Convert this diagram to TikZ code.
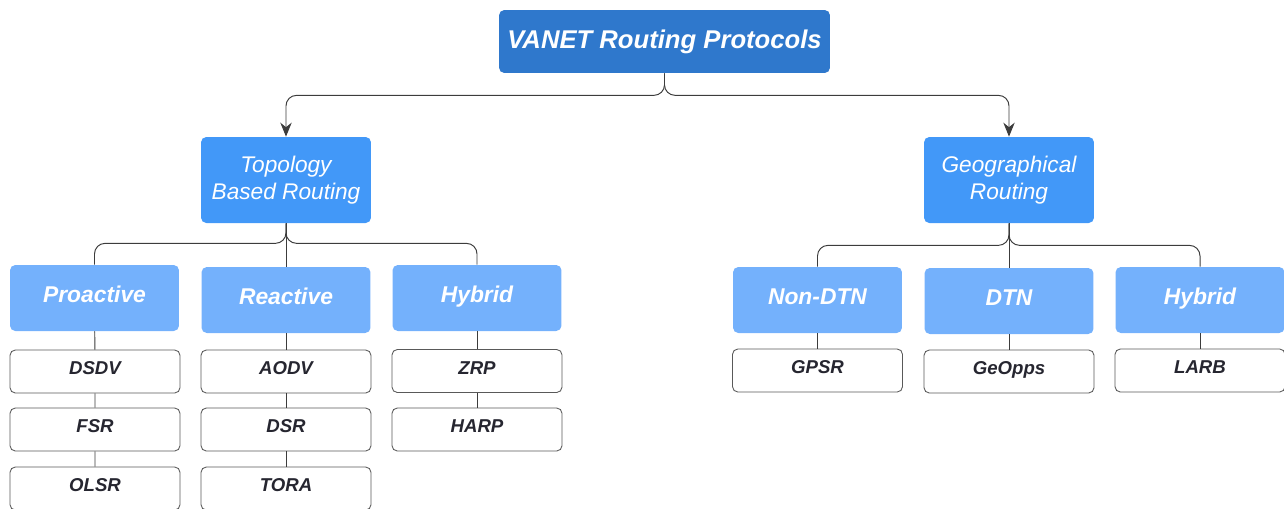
\documentclass[tikz,border=0pt]{standalone}
\usepackage{fontspec}
\setmainfont{Liberation Sans}
\usetikzlibrary{arrows.meta}
\definecolor{raiz}{HTML}{2F78CC}
\definecolor{rama}{HTML}{4298F8}
\definecolor{clase}{HTML}{74B1FC}
\definecolor{linea}{HTML}{3C3C3C}
\definecolor{tinta}{HTML}{262630}

\begin{document}
\begin{tikzpicture}[x=0.02cm,y=-0.02cm,
   raizbox/.style={fill=raiz,rounded corners=3pt,minimum width=6.62cm,minimum height=1.26cm,
     text=white,font=\fontsize{14.6}{17}\selectfont\bfseries\itshape},
   ramabox/.style={fill=rama,rounded corners=3pt,minimum width=3.4cm,minimum height=1.72cm,
     text=white,align=center,font=\fontsize{12.9}{15.3}\selectfont\itshape},
   clasebox/.style={fill=clase,rounded corners=3pt,minimum width=3.38cm,minimum height=1.32cm,
     text=white,text depth=4pt,font=\fontsize{13}{15}\selectfont\bfseries\itshape},
   hoja/.style={draw=linea!85,line width=0.5pt,fill=white,rounded corners=3pt,minimum width=3.4cm,minimum height=0.86cm,
     text=tinta,text depth=3.5pt,font=\fontsize{10.6}{12}\selectfont\bfseries\itshape},
   conector/.style={draw=linea,line width=0.55pt},
   flecha/.style={conector,rounded corners=6pt,-{Stealth[length=8pt,width=6.5pt]}},
   rama2/.style={conector,rounded corners=6pt}]

  \useasboundingbox (0,0) rectangle (1284,508);

  % --- raiz ---
  \node[raizbox] (vanet) at (664.5,41.5) {VANET Routing Protocols};

  % --- ramas ---
  \node[ramabox] (topo) at (286,180) {Topology\\Based Routing};
  \node[ramabox] (geo)  at (1009,180) {Geographical\\Routing};
  \draw[flecha] (vanet.south) -- ++(0,22) -| (topo.north);
  \draw[flecha] (vanet.south) -- ++(0,22) -| (geo.north);

  % --- topologia ---
  \node[clasebox] (pro) at (94.5,298) {Proactive};
  \node[clasebox] (rea) at (286,300) {Reactive};
  \node[clasebox] (hib) at (477,298) {Hybrid};
  \draw[rama2] (topo.south) -- ++(0,20) -| (pro.north);
  \draw[rama2] (topo.south) -- ++(0,20) -| (hib.north);
  \draw[conector] (topo.south) -- (rea.north);

  \node[hoja] (dsdv) at (95,371.5) {DSDV};
  \node[hoja] (fsr)  at (95,429.5) {FSR};
  \node[hoja] (olsr) at (95,488.5) {OLSR};
  \node[hoja] (aodv) at (286,371.5) {AODV};
  \node[hoja] (dsr)  at (286,429.5) {DSR};
  \node[hoja] (tora) at (286,488.5) {TORA};
  \node[hoja] (zrp)  at (477,371) {ZRP};
  \node[hoja] (harp) at (477,429.5) {HARP};
  \draw[conector] (pro) -- (dsdv) (dsdv) -- (fsr) (fsr) -- (olsr);
  \draw[conector] (rea) -- (aodv) (aodv) -- (dsr) (dsr) -- (tora);
  \draw[conector] (hib) -- (zrp) (zrp) -- (harp);

  % --- geografico ---
  \node[clasebox] (nodtn) at (817.5,300) {Non-DTN};
  \node[clasebox] (dtn)   at (1009,301) {DTN};
  \node[clasebox] (hibg)  at (1200,300) {Hybrid};
  \draw[rama2] (geo.south) -- ++(0,22) -| (nodtn.north);
  \draw[rama2] (geo.south) -- ++(0,22) -| (hibg.north);
  \draw[conector] (geo.south) -- (dtn.north);

  \node[hoja] (gpsr)   at (817.5,370.5) {GPSR};
  \node[hoja] (geopps) at (1009,371.5) {GeOpps};
  \node[hoja] (larb)   at (1200,370.5) {LARB};
  \draw[conector] (nodtn) -- (gpsr) (dtn) -- (geopps) (hibg) -- (larb);
\end{tikzpicture}
\end{document}
